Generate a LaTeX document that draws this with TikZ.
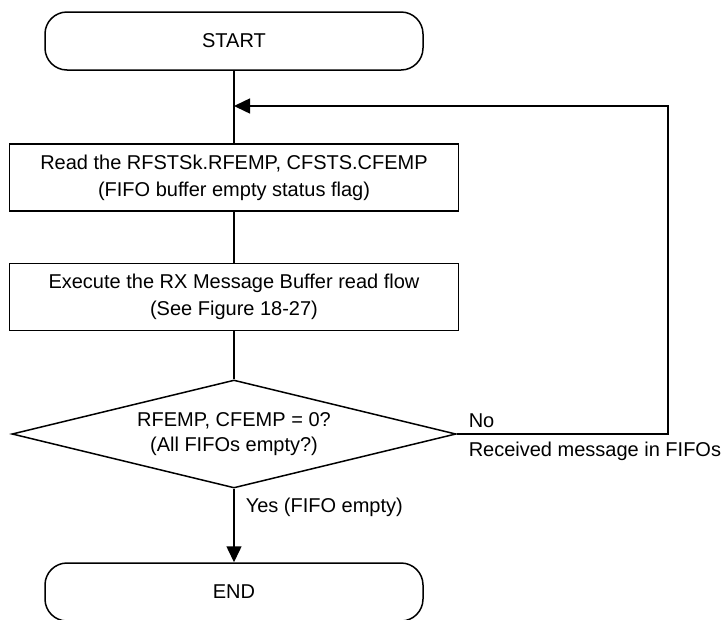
\documentclass[tikz,border=0pt]{standalone}
\usepackage{fontspec}
\setmainfont{Liberation Sans}
\usetikzlibrary{shapes.geometric,arrows.meta}
\begin{document}
\begin{tikzpicture}[x=1pt,y=-1pt,
  line width=1.5pt,
  every node/.style={font=\fontsize{20}{27}\selectfont, inner sep=0pt},
  terminal/.style={draw, rounded corners=22pt, minimum width=378pt, minimum height=58pt},
  procbox/.style={draw, minimum width=449pt, minimum height=67pt, align=center},
  decision/.style={draw, diamond, aspect=4.11, minimum width=444pt, minimum height=108pt, align=center},
  arr/.style={-{Triangle[length=16pt,width=15pt]}},
  lbl/.style={anchor=base west}]
\useasboundingbox (0,0) rectangle (723,619);
\node[terminal] (start) at (234,41) {START};
\node[procbox] (box1) at (234,177.5) {Read the RFSTSk.RFEMP, CFSTS.CFEMP\\(FIFO buffer empty status flag)};
\node[procbox] (box2) at (234,297) {Execute the RX Message Buffer read flow\\(See Figure 18-27)};
\node[decision] (dec) at (234,434) {RFEMP, CFEMP = 0?\\[-2pt](All FIFOs empty?)};
\node[terminal] (end) at (234,592) {END};
\coordinate (j) at (234,106);
\coordinate (c1) at (668,434);
\coordinate (c2) at (668,106);
\draw (start) -- (box1);
\draw (box1) -- (box2);
\draw (box2) -- (dec);
\draw[arr] (dec) -- node[pos=0.25, anchor=west, xshift=11pt] (yes) {Yes (FIFO empty)} (end);
\draw[arr] (dec.east) -- (c1) -- (c2) -- (j);
\node[lbl] (no) at (468,427) {No};
\node[lbl] (recv) at (468,456) {Received message in FIFOs};
\end{tikzpicture}
\end{document}
